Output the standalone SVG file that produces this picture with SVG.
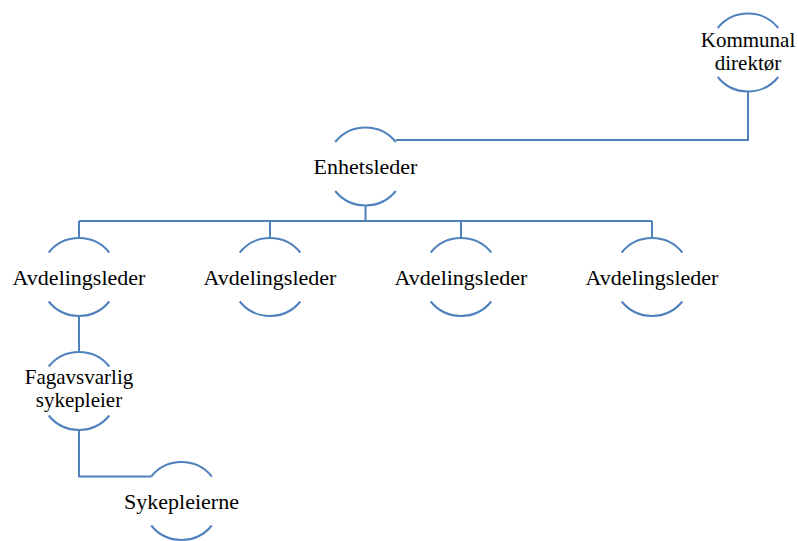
<svg xmlns="http://www.w3.org/2000/svg" width="798" height="541" viewBox="0 0 798 541">
<style>
.arc{fill:none;stroke:#4f81bd;stroke-width:2}
.conn{fill:none;stroke:#4f81bd;stroke-width:2}
text{font-family:"Liberation Serif","Times New Roman",serif;font-size:22px;fill:#000;text-anchor:middle}
text.two{font-size:21px}
</style>
<rect width="798" height="541" fill="#fff"/>
<g id="connectors">
<polyline class="conn" points="396,140 748,140 748,91.5"/>
<polyline class="conn" points="365.5,205.5 365.5,221"/>
<polyline class="conn" points="79,221 652,221"/>
<line class="conn" x1="79" y1="221" x2="79" y2="238"/>
<line class="conn" x1="270" y1="221" x2="270" y2="238"/>
<line class="conn" x1="461" y1="221" x2="461" y2="238"/>
<line class="conn" x1="652" y1="221" x2="652" y2="238"/>
<line class="conn" x1="79" y1="316" x2="79" y2="352"/>
<polyline class="conn" points="79,430 79,476.5 151.2,476.5"/>
</g>
<g id="kommunal">
<path class="arc" d="M717.7,28 A39,39 0 0 1 778.3,28 M717.7,77 A39,39 0 0 0 778.3,77"/>
<text class="two" x="748" y="47">Kommunal</text>
<text class="two" x="748" y="70">direktør</text>
</g>
<g id="enhetsleder">
<path class="arc" d="M335.2,142 A39,39 0 0 1 395.8,142 M335.2,191 A39,39 0 0 0 395.8,191"/>
<text x="365.5" y="174">Enhetsleder</text>
</g>
<g id="avd1">
<path class="arc" d="M48.7,252.5 A39,39 0 0 1 109.3,252.5 M48.7,301.5 A39,39 0 0 0 109.3,301.5"/>
<text x="79" y="285">Avdelingsleder</text>
</g>
<g id="avd2">
<path class="arc" d="M239.7,252.5 A39,39 0 0 1 300.3,252.5 M239.7,301.5 A39,39 0 0 0 300.3,301.5"/>
<text x="270" y="285">Avdelingsleder</text>
</g>
<g id="avd3">
<path class="arc" d="M430.7,252.5 A39,39 0 0 1 491.3,252.5 M430.7,301.5 A39,39 0 0 0 491.3,301.5"/>
<text x="461" y="285">Avdelingsleder</text>
</g>
<g id="avd4">
<path class="arc" d="M621.7,252.5 A39,39 0 0 1 682.3,252.5 M621.7,301.5 A39,39 0 0 0 682.3,301.5"/>
<text x="652" y="285">Avdelingsleder</text>
</g>
<g id="fagavsvarlig">
<path class="arc" d="M48.7,366.5 A39,39 0 0 1 109.3,366.5 M48.7,415.5 A39,39 0 0 0 109.3,415.5"/>
<text class="two" x="79" y="384">Fagavsvarlig</text>
<text class="two" x="79" y="407">sykepleier</text>
</g>
<g id="sykepleierne">
<path class="arc" d="M151.2,476.5 A39,39 0 0 1 211.8,476.5 M151.2,525.5 A39,39 0 0 0 211.8,525.5"/>
<text x="181.5" y="509">Sykepleierne</text>
</g>
</svg>
